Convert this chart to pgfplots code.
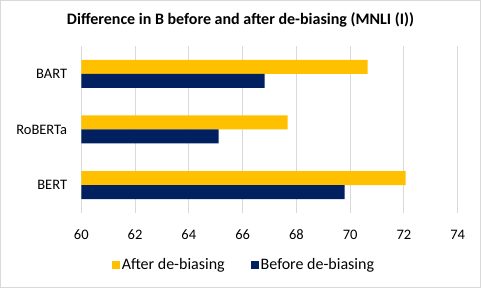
\documentclass[border=0pt]{standalone}
\usepackage{pgfplots}
\pgfplotsset{compat=1.18}
\usepackage{fontspec}
\setmainfont{Carlito}
\definecolor{exyellow}{HTML}{FFC000}
\definecolor{exnavy}{HTML}{002060}
\definecolor{exgrid}{HTML}{D9D9D9}
\begin{document}
\begin{tikzpicture}
\useasboundingbox (0,0) rectangle (481pt,288pt);
\draw[exgrid, line width=1pt] (0.5pt,0.5pt) rectangle (480.5pt,287.5pt);
\node[font=\fontsize{16pt}{18pt}\selectfont\bfseries] at (240.5pt,268pt) {Difference in B before and after de-biasing (MNLI (I))};
\begin{axis}[
  at={(81.3pt,75pt)}, anchor=south west,
  scale only axis, width=376.4pt, height=167pt,
  xmin=60, xmax=74, ymin=-0.5, ymax=2.5,
  xtick={60,62,...,74},
  ytick={0,1,2}, yticklabels={BERT,RoBERTa,BART},
  xbar, bar width=14pt,
  axis line style={draw=none},
  xmajorgrids, grid style={exgrid, line width=1pt},
  major tick length=0pt,
  tick label style={font=\fontsize{14.5pt}{16pt}\selectfont, inner sep=0pt},
  /pgf/number format/assume math mode=true,
  xticklabel style={anchor=center, yshift=-22pt},
  yticklabel style={anchor=east, xshift=-14pt},
  clip=false,
  legend columns=2,
  legend style={draw=none, fill=none, at={(0.432,-0.311)}, anchor=center,
    font=\fontsize{16pt}{18pt}\selectfont,
    nodes={inner xsep=2pt},
    /tikz/every even column/.append style={column sep=24pt}},
  legend image code/.code={\fill[#1] (0pt,-4pt) rectangle (8pt,4pt);},
]
\addplot[fill=exyellow, draw=none, bar shift=7pt] coordinates {(72.06,0) (67.67,1) (70.65,2)};
\addlegendentry{After de-biasing}
\addplot[fill=exnavy, draw=none, bar shift=-7pt] coordinates {(69.79,0) (65.11,1) (66.82,2)};
\addlegendentry{Before de-biasing}
\end{axis}
\end{tikzpicture}
\end{document}
